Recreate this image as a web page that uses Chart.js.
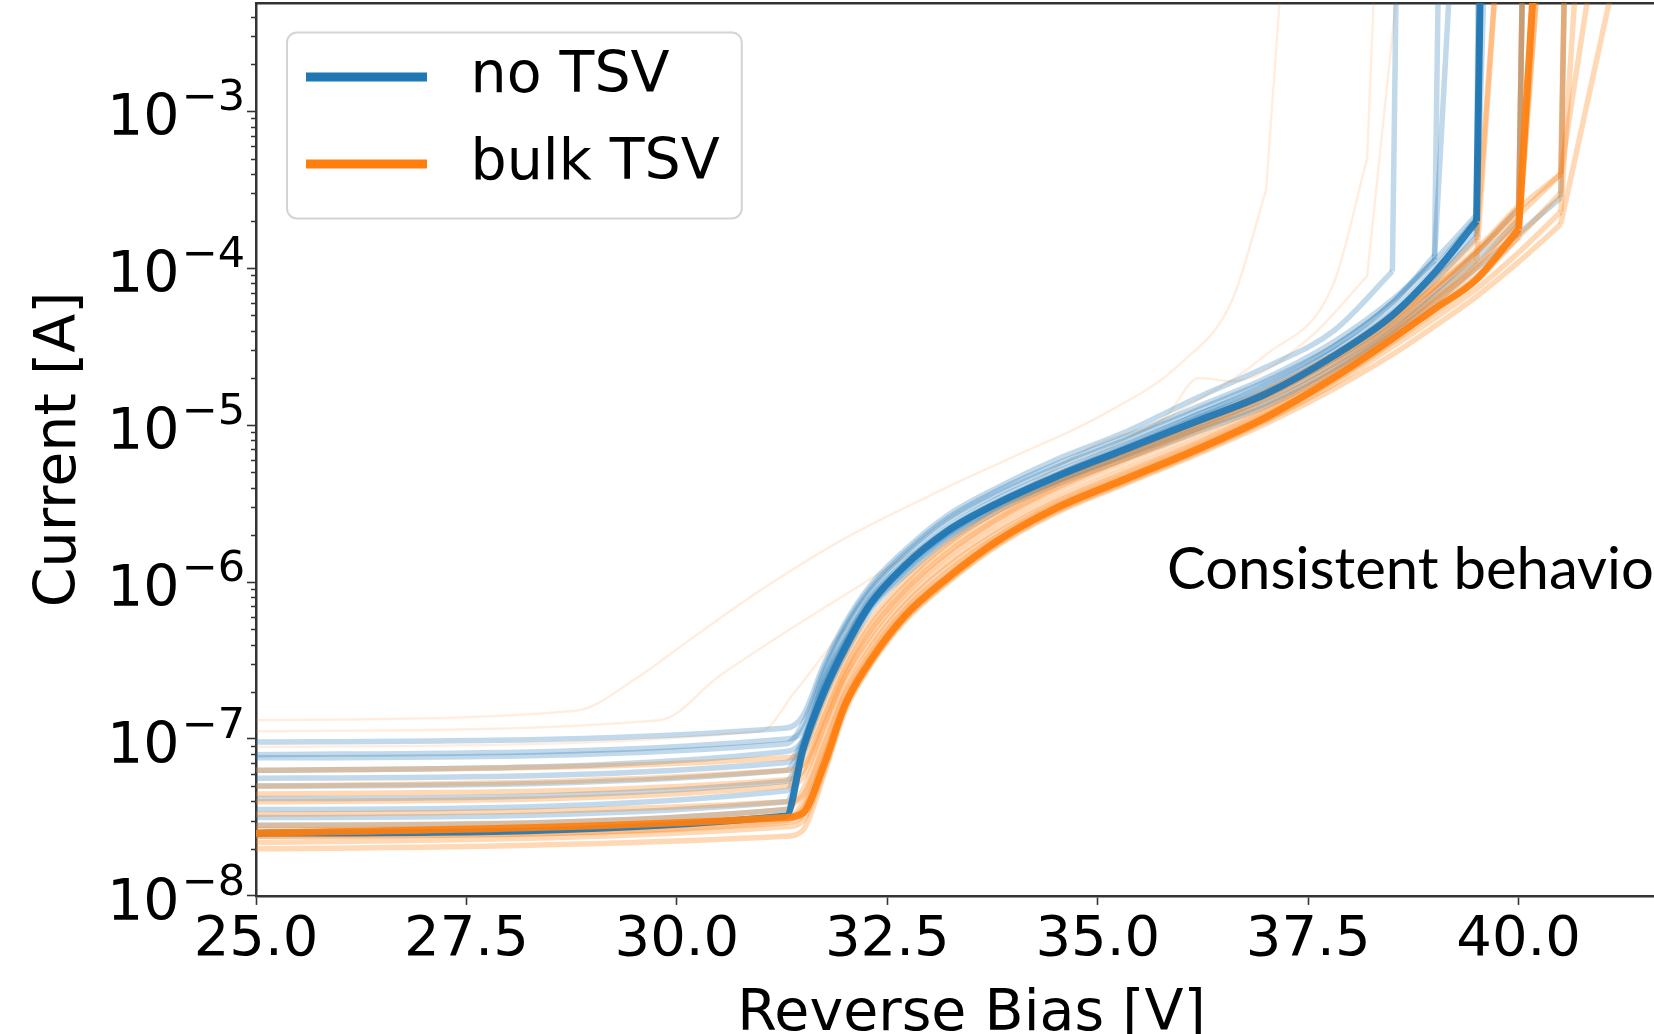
<!DOCTYPE html>
<html>
<head>
<meta charset="utf-8">
<script src="https://cdn.jsdelivr.net/npm/chart.js@4.4.1/dist/chart.umd.min.js"></script>
<style>
  html, body { margin: 0; padding: 0; overflow: hidden; background: #fff; }
  #wrap { position: relative; width: 1700px; height: 1070px; }
</style>
</head>
<body>
<div id="wrap"><canvas id="iv" width="1700" height="1070"></canvas></div>
<script>
// Reverse-bias I-V sweeps of diodes without TSV and with bulk TSV.
// Currents are stored as log10(I / A) on a shared voltage grid; each sweep
// ends when the device runs away to the 10 mA compliance.

const voltageGrid = [25, 31.3, 31.5, 31.75, 32, 32.3, 32.7, 33.2, 33.8, 34.5, 35.3, 36.2, 37, 37.8, 38.5, 39, 39.5, 40, 40.5];
const complianceLog = -2;

// Typical (densest) sweep of each group
const noTsvTypical   = [-7.60, -7.49, -7.06, -6.70, -6.42, -6.14, -5.90, -5.68, -5.50, -5.33, -5.16, -4.97, -4.80, -4.56, -4.30, -4.03, -3.70];
const bulkTsvTypical = [-7.60, -7.50, -7.47, -7.16, -6.78, -6.50, -6.22, -5.98, -5.74, -5.53, -5.35, -5.15, -4.95, -4.70, -4.45, -4.26, -4.07, -3.75];
const typicalRunaway = [39.55, 40.2];

// Individual sweeps, no TSV
const noTsv1  = [-7.02, -6.93, -6.85, -6.52, -6.26, -6.02, -5.80, -5.58, -5.40, -5.22, -5.05, -4.82, -4.63, -4.40, -4.02];
const noTsv2  = [-7.10, -7.00, -6.94, -6.58, -6.30, -6.06, -5.84, -5.62, -5.44, -5.27, -5.10, -4.90, -4.72, -4.50, -4.22, -3.92];
const noTsv3  = [-7.20, -7.08, -7.00, -6.62, -6.36, -6.10, -5.88, -5.66, -5.47, -5.30, -5.13, -4.93, -4.76, -4.53, -4.27, -4.00, -3.68];
const noTsv4  = [-7.30, -7.20, -7.02, -6.66, -6.38, -6.12, -5.90, -5.70, -5.52, -5.36, -5.20, -5.02, -4.86, -4.64, -4.40, -4.18, -3.95, -3.70];
const noTsv5  = [-7.45, -7.33, -7.05, -6.68, -6.40, -6.14, -5.92, -5.70, -5.50, -5.32, -5.14, -4.93, -4.74, -4.50, -4.22, -3.95];
const noTsv6  = [-7.55, -7.45, -7.10, -6.74, -6.46, -6.18, -5.96, -5.74, -5.55, -5.38, -5.22, -5.04, -4.88, -4.66, -4.42, -4.22, -4.00, -3.78, -3.55];
const noTsv7  = [-7.12, -7.03, -6.90, -6.55, -6.28, -6.04, -5.82, -5.60, -5.42, -5.25, -5.08, -4.88, -4.70, -4.47, -4.20, -3.95, -3.66];
const noTsv8  = [-7.38, -7.27, -7.04, -6.67, -6.39, -6.13, -5.91, -5.69, -5.51, -5.34, -5.17, -4.98, -4.81, -4.58, -4.33, -4.08, -3.80];
const noTsv9  = [-7.25, -7.15, -7.01, -6.64, -6.37, -6.11, -5.89, -5.67, -5.49, -5.32, -5.15, -4.95, -4.78, -4.55, -4.29, -4.05, -3.76];
const noTsv10 = [-7.50, -7.40, -7.08, -6.72, -6.44, -6.16, -5.94, -5.72, -5.53, -5.36, -5.19, -5.00, -4.83, -4.61, -4.37, -4.15, -3.90, -3.62];
const noTsvRunaway = [38.55, 39.05, 39.55, 40.05, 39.2, 40.55, 39.52, 39.55, 39.6, 40.05];

// Individual sweeps, bulk TSV
const bulkTsv1  = [-7.62, -7.52, -7.40, -7.08, -6.72, -6.45, -6.18, -5.94, -5.71, -5.50, -5.32, -5.12, -4.92, -4.68, -4.42, -4.22, -3.98, -3.68];
const bulkTsv2  = [-7.66, -7.56, -7.52, -7.20, -6.80, -6.52, -6.24, -6.00, -5.76, -5.55, -5.37, -5.17, -4.97, -4.74, -4.50, -4.32, -4.13, -3.90, -3.64];
const bulkTsv3  = [-7.55, -7.45, -7.32, -6.98, -6.64, -6.38, -6.12, -5.88, -5.66, -5.46, -5.28, -5.08, -4.88, -4.63, -4.38, -4.18, -3.95];
const bulkTsv4  = [-7.40, -7.30, -7.24, -6.92, -6.60, -6.34, -6.08, -5.84, -5.62, -5.42, -5.24, -5.04, -4.84, -4.60, -4.36, -4.14, -3.90, -3.62, -3.40];
const bulkTsv5  = [-7.30, -7.20, -7.16, -6.86, -6.55, -6.28, -6.03, -5.79, -5.58, -5.38, -5.20, -5.00, -4.80, -4.56, -4.30, -4.08, -3.82];
const bulkTsv6  = [-7.20, -7.12, -7.08, -6.80, -6.50, -6.24, -6.00, -5.76, -5.55, -5.36, -5.18, -4.98, -4.78, -4.55, -4.32, -4.12, -3.90, -3.66, -3.40];
const bulkTsv7  = [-7.70, -7.62, -7.58, -7.22, -6.82, -6.53, -6.25, -6.01, -5.77, -5.56, -5.38, -5.18, -4.99, -4.77, -4.55, -4.37, -4.18, -3.96, -3.72];
const bulkTsv8  = [-7.48, -7.40, -7.36, -7.04, -6.70, -6.42, -6.15, -5.91, -5.69, -5.49, -5.31, -5.11, -4.91, -4.66, -4.41, -4.20, -4.00, -3.72];
const bulkTsv9  = [-7.35, -7.26, -7.20, -6.89, -6.58, -6.31, -6.06, -5.82, -5.60, -5.40, -5.22, -5.02, -4.82, -4.58, -4.34, -4.12, -3.88, -3.60];
const bulkTsv10 = [-7.58, -7.49, -7.44, -7.12, -6.76, -6.48, -6.20, -5.96, -5.73, -5.52, -5.34, -5.14, -4.94, -4.70, -4.45, -4.25, -4.05, -3.80, -3.52];
const bulkTsv11 = [-7.62, -7.53, -7.48, -7.17, -6.79, -6.51, -6.23, -5.99, -5.75, -5.54, -5.36, -5.16, -4.96, -4.72, -4.47, -4.28, -4.08, -3.80];
const bulkTsvRunaway = [40.05, 40.7, 39.75, 40.55, 39.75, 40.9, 41.2, 40.25, 40.05, 40.55, 40.25];

// Early-breakdown bulk TSV sweeps (own voltage steps)
const earlyV1 = [25, 28.8, 29.5, 30.2, 31.0, 32.0, 33.0, 34.0, 35.0, 36.0, 36.6, 37.0];
const earlyI1 = [-6.88, -6.82, -6.62, -6.35, -6.05, -5.72, -5.45, -5.20, -4.95, -4.60, -4.20, -3.50];
const earlyV2 = [25, 29.8, 30.5, 31.2, 32.0, 33.0, 34.0, 35.0, 36.0, 37.0, 37.8, 38.2];
const earlyI2 = [-6.95, -6.88, -6.60, -6.35, -6.08, -5.75, -5.45, -5.18, -4.90, -4.55, -4.10, -3.30];
const earlyV3 = [25, 31.0, 31.4, 32.0, 33.0, 34.0, 35.0, 35.8, 36.2, 36.6, 37.5, 38.2];
const earlyI3 = [-7.05, -6.95, -6.70, -6.30, -5.85, -5.45, -5.12, -4.95, -4.70, -4.72, -4.45, -4.05];
const earlyRunaway = [37.2, 38.3, 38.6];

// Axis ticks
const biasTicks = [25, 27.5, 30, 32.5, 35, 37.5, 40];
const currentDecades = [-8, -7, -6, -5, -4, -3];
const minorMantissas = [2, 3, 4, 5, 6, 7, 8, 9];

const groupNames = ['no TSV', 'bulk TSV'];
const groupColors = ['#1f77b4', '#ff7f0e'];

function toPoints(volts, logs) {
  return logs.map((l, i) => ({ x: volts[i], y: Math.pow(10, l) }));
}

function rgba(hex, a) {
  const n = parseInt(hex.slice(1), 16);
  return `rgba(${(n >> 16) & 255},${(n >> 8) & 255},${n & 255},${a})`;
}

const datasets = [];
// Smooth pre-breakdown part, then a straight runaway to compliance.
function addSweep(group, volts, logs, runaway, alpha, width) {
  const pts = toPoints(volts, logs);
  const color = rgba(groupColors[group], alpha);
  const common = { label: groupNames[group], pointRadius: 0, pointHoverRadius: 0, fill: false,
                   borderColor: color, borderWidth: width, borderJoinStyle: 'round' };
  datasets.push(Object.assign({}, common, { data: pts, cubicInterpolationMode: 'monotone' }));
  datasets.push(Object.assign({}, common, {
    data: [pts[pts.length - 1], { x: runaway, y: Math.pow(10, complianceLog) }], tension: 0
  }));
}

// Earlier entries are painted on top
addSweep(1, voltageGrid, bulkTsvTypical, typicalRunaway[1], 0.92, 7);
addSweep(0, voltageGrid, noTsvTypical, typicalRunaway[0], 0.92, 7);
[bulkTsv1, bulkTsv2, bulkTsv3, bulkTsv4, bulkTsv5, bulkTsv6, bulkTsv7, bulkTsv8, bulkTsv9, bulkTsv10, bulkTsv11]
  .forEach((logs, i) => addSweep(1, voltageGrid, logs, bulkTsvRunaway[i], 0.3, 5.5));
[noTsv1, noTsv2, noTsv3, noTsv4, noTsv5, noTsv6, noTsv7, noTsv8, noTsv9, noTsv10]
  .forEach((logs, i) => addSweep(0, voltageGrid, logs, noTsvRunaway[i], 0.28, 5.5));
[[earlyV1, earlyI1], [earlyV2, earlyI2], [earlyV3, earlyI3]]
  .forEach(([v, l], i) => addSweep(1, v, l, earlyRunaway[i], 0.13, 2.5));

function legendSwatch(color) {
  const c = document.createElement('canvas');
  c.width = 156; c.height = 12;
  const g = c.getContext('2d');
  g.fillStyle = color;
  g.fillRect(20, 1.5, 121, 9);
  return c;
}

const AXIS = '#333333';
const FONT = 'DejaVu Sans';

// Legend frame, decade labels with superscript exponents, minor log ticks, slide note
const decor = {
  id: 'decor',
  beforeDraw(chart) {
    const hb = chart.legend && chart.legend.legendHitBoxes;
    if (!hb || !hb.length) return;
    const ctx = chart.ctx;
    const left = hb[0].left + 1;
    const top = hb[0].top - 16;
    const right = Math.max(...hb.map(h => h.left + h.width)) + 22;
    const bottom = hb[hb.length - 1].top + hb[hb.length - 1].height + 26;
    ctx.save();
    ctx.beginPath();
    ctx.roundRect(left, top, right - left, bottom - top, 10);
    ctx.fillStyle = 'rgba(255,255,255,0.8)';
    ctx.fill();
    ctx.lineWidth = 2;
    ctx.strokeStyle = '#d4d4d4';
    ctx.stroke();
    ctx.restore();
  },
  afterDraw(chart) {
    const ctx = chart.ctx;
    const y = chart.scales.y;
    ctx.save();
    // minor ticks of the log axis
    ctx.strokeStyle = AXIS;
    ctx.lineWidth = 1.3;
    ctx.beginPath();
    currentDecades.forEach(e => {
      minorMantissas.forEach(m => {
        const v = m * Math.pow(10, e);
        if (v > y.max) return;
        const py = Math.round(y.getPixelForValue(v)) + 0.5;
        ctx.moveTo(y.right - 5, py);
        ctx.lineTo(y.right, py);
      });
    });
    ctx.stroke();
    // decade labels: "10" with a raised exponent
    ctx.fillStyle = '#000';
    ctx.textAlign = 'right';
    ctx.textBaseline = 'alphabetic';
    y.ticks.forEach(t => {
      const py = y.getPixelForValue(t.value);
      const e = Math.round(Math.log10(t.value));
      const exp = (e < 0 ? '\u2212' : '') + Math.abs(e);
      const xr = y.right - 11;
      ctx.font = `43px ${FONT}`;
      ctx.fillText(exp, xr, py - 1);
      const w = ctx.measureText(exp).width;
      ctx.font = `57px ${FONT}`;
      ctx.fillText('10', xr - w - 2, py + 24);
    });
    // slide annotation
    ctx.textAlign = 'left';
    ctx.font = '58px Lato';
    ctx.fillText('Consistent behavior', 1167, 589);
    ctx.restore();
  }
};

new Chart(document.getElementById('iv'), {
  type: 'line',
  data: { datasets },
  plugins: [decor],
  options: {
    responsive: false,
    animation: false,
    events: [],
    layout: { padding: { left: 0, right: 13, top: 3, bottom: 0 } },
    plugins: {
      tooltip: { enabled: false },
      legend: {
        position: 'chartArea',
        align: 'start',
        title: { display: true, text: '', padding: 0, font: { size: 15.4 } },
        labels: {
          font: { family: FONT, size: 57 },
          color: '#000',
          usePointStyle: true,
          pointStyleWidth: 156,
          boxHeight: 12,
          padding: 30,
          generateLabels: () => groupNames.map((name, i) => ({
            text: name,
            pointStyle: legendSwatch(groupColors[i]),
            fillStyle: groupColors[i],
            strokeStyle: groupColors[i],
            lineWidth: 0,
            hidden: false,
            datasetIndex: i,
            fontColor: '#000'
          }))
        }
      }
    },
    scales: {
      x: {
        type: 'linear',
        position: 'bottom',
        min: 25,
        max: 42,
        afterBuildTicks: s => { s.ticks = biasTicks.map(v => ({ value: v })); },
        ticks: {
          font: { family: FONT, size: 56 },
          color: '#000',
          padding: 2,
          maxRotation: 0,
          autoSkip: false,
          callback: v => Number(v).toFixed(1)
        },
        grid: { drawOnChartArea: false, drawTicks: true, tickLength: 9, tickColor: AXIS, tickWidth: 1.6 },
        border: { display: true, color: AXIS, width: 2.5 },
        title: {
          display: true, text: 'Reverse Bias [V]', color: '#000',
          font: { family: FONT, size: 57 }, padding: { top: 5, bottom: 20.5 }
        }
      },
      xTop: {
        type: 'linear',
        position: 'top',
        min: 25,
        max: 42,
        ticks: { display: false },
        grid: { drawOnChartArea: false, drawTicks: false },
        border: { display: true, color: AXIS, width: 2.5 }
      },
      y: {
        type: 'logarithmic',
        position: 'left',
        min: 1e-8,
        max: 4.9e-3,
        afterBuildTicks: s => { s.ticks = currentDecades.map(e => ({ value: Math.pow(10, e) })); },
        afterFit: s => { s.width = 256; },
        ticks: { display: false },
        grid: { drawOnChartArea: false, drawTicks: true, tickLength: 9, tickColor: AXIS, tickWidth: 1.6 },
        border: { display: true, color: AXIS, width: 2.5 },
        title: {
          display: true, text: 'Current [A]', color: '#000',
          font: { family: FONT, size: 57 }, padding: { top: 26, bottom: 0 }
        }
      }
    }
  }
});
</script>
</body>
</html>
